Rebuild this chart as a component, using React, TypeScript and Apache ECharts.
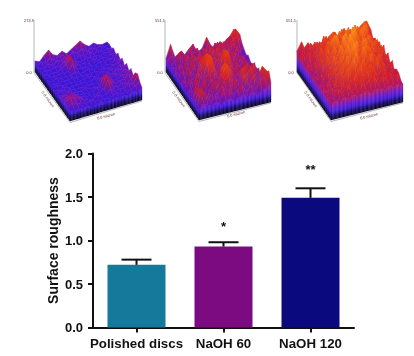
import React, { useEffect, useRef } from "react";
import * as echarts from "echarts";

const categories = ["Polished discs", "NaOH 60", "NaOH 120"];
const barValues = [0.72, 0.93, 1.49];
const errorTops = [0.78, 0.98, 1.6];
const significance = ["", "*", "**"];
const significanceLevels = [0, 1.16, 1.82];
const barColors = ["#14799a", "#7c0a80", "#0a0a7e"];
const yTicks = [0, 0.5, 1, 1.5, 2];

const heightsPolished = [
  [11,9,14,18,12,10,13,9,12,15,18,13,10,12,9,8,9],
  [9,12,10,14,9,15,11,9,13,10,14,9,12,9,11,8,10],
  [10,8,12,9,13,10,16,9,8,12,9,13,8,11,8,10,9],
  [8,10,8,11,9,13,18,11,9,8,11,9,10,8,10,9,12],
  [10,8,9,8,11,14,20,12,8,10,8,11,8,10,8,11,9],
  [8,9,8,10,8,10,16,9,9,8,9,8,10,8,11,9,13],
  [9,8,10,8,9,8,11,8,8,10,8,9,8,9,8,12,10],
  [8,8,8,9,8,10,8,9,8,8,9,8,10,8,10,11,14],
  [8,10,8,8,9,8,8,8,10,8,8,11,8,11,9,12,10],
  [9,8,10,8,8,8,9,8,8,10,8,9,11,9,13,10,15],
  [8,11,9,10,8,8,8,9,8,8,12,13,9,12,10,14,11],
  [10,9,12,8,9,8,10,8,8,9,17,12,10,9,13,11,16],
  [11,13,9,11,8,9,8,9,11,9,21,14,9,11,12,15,12],
  [11,14,16,12,10,8,9,8,9,11,20,11,9,12,10,13,18],
  [13,17,15,14,10,9,8,11,8,9,13,9,11,9,14,11,20],
  [11,14,12,10,9,11,9,8,9,8,9,11,8,10,9,13,15],
  [10,9,10,9,10,8,9,10,8,9,10,9,10,9,11,10,12],
];
const heightsNaoh60 = [
  [16,31,15,19,14,20,25,14,17,29,18,13,20,14,22,30,23],
  [18,22,13,24,16,25,14,19,13,26,17,24,15,25,28,34,26],
  [13,18,26,14,21,13,27,15,24,16,28,15,27,19,27,30,19],
  [16,13,17,27,14,23,15,29,16,27,17,31,17,28,22,20,16],
  [12,22,14,17,30,15,26,17,32,19,29,15,28,16,24,14,13],
  [18,12,26,14,21,31,16,28,16,33,20,26,17,25,15,17,16],
  [14,22,13,28,15,30,34,18,29,20,34,18,28,15,22,13,12],
  [12,15,27,14,22,33,38,24,18,31,37,26,15,26,13,19,12],
  [19,12,16,21,27,36,40,28,15,36,40,24,25,15,24,13,18],
  [13,22,13,28,16,37,41,22,27,30,31,18,14,27,15,22,13],
  [12,15,24,14,24,26,31,16,33,26,19,29,17,16,25,13,19],
  [18,12,26,16,13,25,16,28,38,27,16,24,28,31,14,24,14],
  [13,23,14,28,17,13,24,31,41,33,22,15,32,20,33,15,26],
  [16,26,17,13,23,28,14,27,30,19,15,36,25,35,20,27,19],
  [14,28,16,21,14,18,27,15,21,28,14,33,17,30,16,36,29],
  [13,31,24,14,20,14,22,24,14,20,25,15,22,15,24,29,33],
  [12,18,14,13,16,12,15,16,13,15,17,14,18,14,16,19,22],
];
const heightsNaoh120 = [
  [24,33,21,29,22,28,20,31,35,23,32,22,31,24,34,38,28],
  [20,28,34,22,32,23,36,25,38,28,40,25,37,29,37,42,30],
  [29,21,26,37,24,41,26,42,29,44,31,41,26,40,44,33,23],
  [22,32,22,28,39,28,44,29,46,32,48,34,47,38,46,29,28],
  [19,26,35,22,31,42,30,47,33,50,38,53,36,50,36,33,22],
  [26,20,27,40,27,44,51,33,48,37,55,40,52,38,41,25,31],
  [21,30,21,31,43,30,53,38,54,42,57,43,36,46,30,38,24],
  [18,24,37,23,33,47,34,56,44,60,47,35,47,32,42,26,34],
  [23,19,27,41,25,38,50,40,60,49,38,52,31,45,28,38,23],
  [20,28,21,29,44,27,42,53,41,54,33,48,43,30,40,24,32],
  [18,23,34,22,34,45,30,47,56,37,50,34,41,34,26,35,22],
  [24,18,25,38,23,37,48,33,51,35,30,44,30,41,31,23,30],
  [20,28,20,28,41,26,39,49,31,44,33,27,42,26,27,33,21],
  [25,18,32,21,32,42,27,33,43,28,40,34,24,37,22,28,27],
  [19,29,21,36,23,28,37,25,33,39,26,34,25,31,29,22,26],
  [22,20,30,23,32,23,27,35,24,31,34,23,31,24,27,29,21],
  [18,21,19,22,20,23,21,22,24,20,23,22,20,23,21,22,20],
];
const topLabels = ["274.9", "551.1", "551.1"];
const baseLabel = "0.0";
const edgeLabel = "5.0 micron";

const ramp: [number, number[]][] = [
  [0, [4, 0, 24]],
  [4, [16, 4, 90]],
  [8, [58, 20, 216]],
  [13, [110, 20, 190]],
  [18, [170, 20, 110]],
  [23, [205, 24, 48]],
  [31, [225, 45, 18]],
  [40, [242, 95, 16]],
  [52, [250, 145, 30]],
];
function colorAt(h: number) {
  for (let i = 1; i < ramp.length; i++) {
    if (h <= ramp[i][0]) {
      const [h0, c0] = ramp[i - 1];
      const [h1, c1] = ramp[i];
      const t = (h - h0) / (h1 - h0);
      return `rgb(${c0.map((v, k) => Math.round(v + (c1[k] - v) * t)).join(",")})`;
    }
  }
  return `rgb(${ramp[ramp.length - 1][1].join(",")})`;
}

const panels = [
  { left: 0, heights: heightsPolished, zScale: 1, L: [35, 72], F: [70, 121], R: [142, 100], axisX: 34, labelX: 29, edgeA: [48, 99], edgeB: [106, 116] },
  { left: 140, heights: heightsNaoh60, zScale: 0.85, L: [26, 72], F: [59, 120], R: [131, 102], axisX: 25, labelX: 20, edgeA: [39, 99], edgeB: [96, 114] },
  { left: 274, heights: heightsNaoh120, zScale: 0.88, L: [23, 72], F: [57, 120], R: [129, 102], axisX: 23, labelX: 17, edgeA: [37, 99], edgeB: [95, 116] },
];
const N = 16;

function makeProject(p: (typeof panels)[number], api: any) {
  const ux = (p.F[0] - p.L[0]) / N, uy = (p.F[1] - p.L[1]) / N;
  const vx = (p.R[0] - p.F[0]) / N, vy = (p.R[1] - p.F[1]) / N;
  return (r: number, c: number, h: number) =>
    api.coord([p.L[0] + r * ux + c * vx, p.L[1] + r * uy + c * vy - h]);
}

function surfaceSeries(p: (typeof panels)[number], idx: number) {
  const h = p.heights.map((row) => row.map((v) => v * p.zScale));
  const cells: number[][] = [];
  for (let r = 0; r < N; r++) {
    for (let c = N - 1; c >= 0; c--) {
      cells.push([r, c, h[r][c], h[r + 1][c], h[r + 1][c + 1], h[r][c + 1]]);
    }
  }
  const walls: number[][] = [];
  for (let r = 0; r < N; r++) walls.push([r, 0, r + 1, 0, h[r][0], h[r + 1][0]]);
  for (let c = 0; c < N; c++) walls.push([N, c, N, c + 1, h[N][c], h[N][c + 1]]);
  return [
    {
      type: "custom", xAxisIndex: idx + 1, yAxisIndex: idx + 1, silent: true, clip: false, data: cells,
      renderItem: (_: any, api: any) => {
        const project = makeProject(p, api);
        const r = api.value(0), c = api.value(1);
        const a = api.value(2), b = api.value(3), d = api.value(4), e = api.value(5);
        const pts = [project(r, c, a), project(r + 1, c, b), project(r + 1, c + 1, d), project(r, c + 1, e)];
        const hi = Math.max(a, b, d, e), lo = Math.min(a, b, d, e);
        const fill = new echarts.graphic.LinearGradient(0, 0, 0, 1, [
          { offset: 0, color: colorAt(hi) },
          { offset: 1, color: colorAt(lo) },
        ]);
        return { type: "polygon", shape: { points: pts }, style: { fill, stroke: fill, lineWidth: 0.5 } };
      },
    },
    {
      type: "custom", xAxisIndex: idx + 1, yAxisIndex: idx + 1, silent: true, clip: false, data: walls,
      renderItem: (_: any, api: any) => {
        const project = makeProject(p, api);
        const r0 = api.value(0), c0 = api.value(1), r1 = api.value(2), c1 = api.value(3);
        const h0 = api.value(4), h1 = api.value(5);
        const children: any[] = [];
        const top = Math.max(h0, h1);
        for (let s = 0; s < top; s += 1) {
          const lo0 = Math.min(s, h0), lo1 = Math.min(s, h1);
          const hi0 = Math.min(s + 1, h0), hi1 = Math.min(s + 1, h1);
          const col = colorAt(s + 0.5);
          children.push({
            type: "polygon",
            shape: { points: [project(r0, c0, lo0), project(r1, c1, lo1), project(r1, c1, hi1), project(r0, c0, hi0)] },
            style: { fill: col, stroke: col, lineWidth: 0.3 },
          });
        }
        return { type: "group", children };
      },
    },
  ];
}

export default function App() {
  const ref = useRef<HTMLDivElement>(null);
  useEffect(() => {
    document.body.style.margin = "0";
    const chart = echarts.init(ref.current!, undefined, { renderer: "svg" });
    const font = "Liberation Sans";
    const graphics: any[] = [];
    panels.forEach((p, i) => {
      const o = p.left;
      graphics.push({
        type: "polyline", silent: true, z: 1,
        shape: { points: [[o + p.axisX, 20], [o + p.axisX, 73], [o + p.F[0], p.F[1] + 1.5], [o + p.R[0], p.R[1] + 1]] },
        style: { stroke: "#9a9a9a", lineWidth: 0.7, fill: "none" },
      });
      const small = (text: string, x: number, y: number, rotation = 0) => ({
        type: "text", silent: true, x, y, rotation,
        style: { text, fill: "#6a2a2a", font: `4px ${font}`, align: "center", verticalAlign: "middle" },
      });
      graphics.push(small(topLabels[i], o + p.labelX, 20));
      graphics.push(small(baseLabel, o + p.labelX, 72.5));
      graphics.push(small(edgeLabel, o + p.edgeA[0], p.edgeA[1], -0.95));
      graphics.push(small(edgeLabel, o + p.edgeB[0], p.edgeB[1], 0.26));
    });

    const hiddenAxes = panels.map((_, i) => i + 1);
    chart.setOption({
      animation: false,
      backgroundColor: "#ffffff",
      graphic: graphics,
      grid: [
        { left: 93, top: 153.5, width: 261, height: 174 },
        ...panels.map((p) => ({ left: p.left, top: 0, width: 140, height: 130 })),
      ],
      xAxis: [
        {
          type: "category", data: categories, gridIndex: 0,
          axisLine: { show: true, lineStyle: { color: "#111", width: 2 } },
          axisTick: { show: true, alignWithLabel: true, length: 5, lineStyle: { color: "#111", width: 2 } },
          axisLabel: { color: "#111", fontFamily: font, fontWeight: "bold", fontSize: 13.3, margin: 9, interval: 0, hideOverlap: false },
        },
        ...hiddenAxes.map((g) => ({ type: "value", gridIndex: g, min: 0, max: 140, show: false })),
      ],
      yAxis: [
        {
          type: "value", gridIndex: 0, min: yTicks[0], max: yTicks[yTicks.length - 1], interval: yTicks[1] - yTicks[0],
          name: "Surface roughness", nameLocation: "middle", nameGap: 33, nameMoveOverlap: false,
          nameTextStyle: { color: "#111", fontFamily: font, fontWeight: "bold", fontSize: 14 },
          splitLine: { show: false },
          axisLine: { show: true, lineStyle: { color: "#111", width: 2 } },
          axisTick: { show: true, length: 5, lineStyle: { color: "#111", width: 2 } },
          axisLabel: { color: "#111", fontFamily: font, fontWeight: "bold", fontSize: 13, margin: 10, formatter: (v: number) => v.toFixed(1) },
        },
        ...hiddenAxes.map((g) => ({ type: "value", gridIndex: g, min: 0, max: 130, inverse: true, show: false })),
      ],
      series: [
        {
          type: "bar", xAxisIndex: 0, yAxisIndex: 0, barWidth: 58, silent: true,
          data: barValues.map((v, i) => ({ value: v, itemStyle: { color: barColors[i] } })),
        },
        {
          type: "custom", xAxisIndex: 0, yAxisIndex: 0, silent: true, z: 5,
          data: barValues.map((v, i) => [i, v, errorTops[i], significanceLevels[i]]),
          renderItem: (params: any, api: any) => {
            const x = api.value(0);
            const base = api.coord([x, api.value(1)]);
            const top = api.coord([x, api.value(2)]);
            const line = (x1: number, y1: number, x2: number, y2: number) => ({
              type: "line", shape: { x1, y1, x2, y2 }, style: { stroke: "#111", lineWidth: 2 },
            });
            const children: any[] = [line(top[0], base[1], top[0], top[1]), line(top[0] - 15, top[1], top[0] + 15, top[1])];
            const mark = significance[params.dataIndex];
            if (mark) {
              const at = api.coord([x, api.value(3)]);
              children.push({
                type: "text",
                style: { text: mark, x: at[0], y: at[1], fill: "#111", font: `bold 13px ${font}`, align: "center", verticalAlign: "middle" },
              });
            }
            return { type: "group", children };
          },
        },
        ...panels.flatMap((p, i) => surfaceSeries(p, i)),
      ],
    });
    return () => chart.dispose();
  }, []);
  return <div ref={ref} style={{ width: 414, height: 356, position: "absolute", left: 0, top: 0, filter: "blur(0.5px)" }} />;
}
